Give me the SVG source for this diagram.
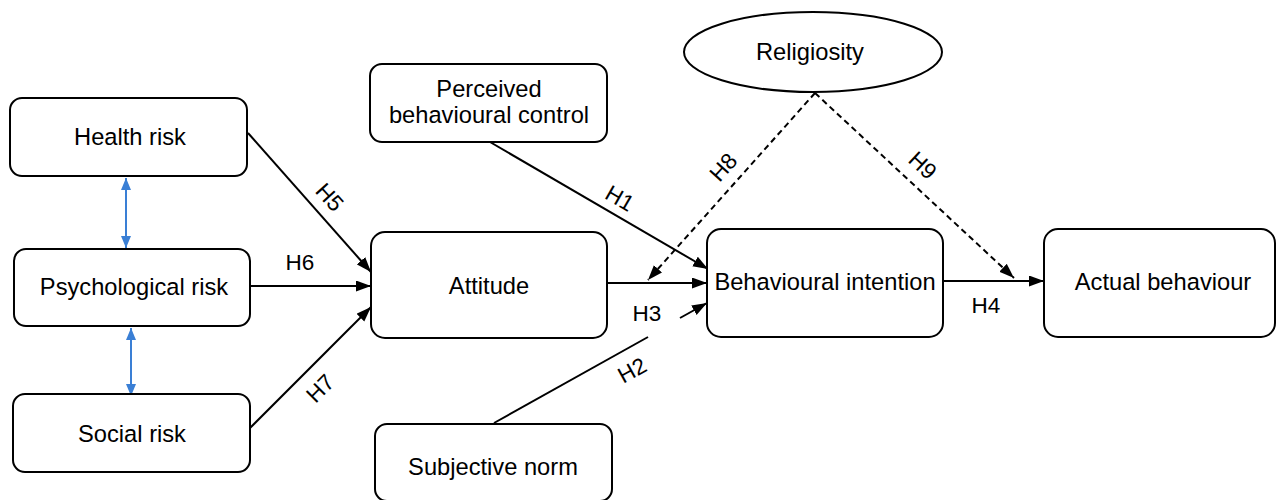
<svg xmlns="http://www.w3.org/2000/svg" width="1276" height="500" viewBox="0 0 1276 500">
<style>
.box{fill:#fff;stroke:#000;stroke-width:2}
.t{font-family:"Liberation Sans",Arial,sans-serif;font-size:23.7px;fill:#000;text-anchor:middle}
.l{font-family:"Liberation Sans",Arial,sans-serif;font-size:22.5px;fill:#000;text-anchor:middle}
.c{fill:none;stroke:#000;stroke-width:2}
.d{fill:none;stroke:#000;stroke-width:2;stroke-dasharray:6 4}
.b{fill:none;stroke:#3a7fd5;stroke-width:2}
</style>
<defs>
<marker id="ah" markerUnits="userSpaceOnUse" markerWidth="16" markerHeight="12" refX="15" refY="5.5" orient="auto"><path d="M0,0 L15,5.5 L0,11 z" fill="#000"/></marker>
<marker id="bh" markerUnits="userSpaceOnUse" markerWidth="13" markerHeight="11" refX="12" refY="5" orient="auto-start-reverse"><path d="M0,0 L12,5 L0,10 z" fill="#3a7fd5"/></marker>
</defs>
<g id="connectors">
<line class="b" x1="126" y1="178" x2="126" y2="248" marker-start="url(#bh)" marker-end="url(#bh)"/>
<line class="b" x1="131" y1="328" x2="131" y2="396" marker-start="url(#bh)" marker-end="url(#bh)"/>
<line class="c" x1="248" y1="133" x2="371" y2="272" marker-end="url(#ah)"/>
<line class="c" x1="250" y1="286" x2="371" y2="286" marker-end="url(#ah)"/>
<line class="c" x1="250" y1="428" x2="371" y2="307" marker-end="url(#ah)"/>
<line class="c" x1="490" y1="142" x2="708" y2="269" marker-end="url(#ah)"/>
<line class="c" x1="607" y1="283" x2="707" y2="283" marker-end="url(#ah)"/>
<line class="c" x1="494" y1="423" x2="648" y2="337"/>
<line class="c" x1="680" y1="318" x2="707" y2="303" marker-end="url(#ah)"/>
<line class="c" x1="943" y1="281" x2="1044" y2="281" marker-end="url(#ah)"/>
<line class="d" x1="815" y1="93" x2="648" y2="280" marker-end="url(#ah)"/>
<line class="d" x1="815" y1="93" x2="1014" y2="278" marker-end="url(#ah)"/>
<text class="l" transform="translate(330,197) rotate(48)" dy="0.36em">H5</text>
<text class="l" x="300" y="262" dy="0.36em">H6</text>
<text class="l" transform="translate(320,388) rotate(-45)" dy="0.36em">H7</text>
<text class="l" transform="translate(620,198) rotate(30)" dy="0.36em">H1</text>
<text class="l" transform="translate(723,167) rotate(-48)" dy="0.36em">H8</text>
<text class="l" transform="translate(923,165) rotate(43)" dy="0.36em">H9</text>
<text class="l" x="647" y="313" dy="0.36em">H3</text>
<text class="l" transform="translate(632,370) rotate(-29)" dy="0.36em">H2</text>
<text class="l" x="986" y="305" dy="0.36em">H4</text>
</g>
<g id="health-risk"><rect class="box" x="10" y="98" width="237" height="78" rx="12"/><text class="t" x="130" y="145">Health risk</text></g>
<g id="psychological-risk"><rect class="box" x="14" y="249" width="236" height="77" rx="12"/><text class="t" x="134" y="295">Psychological risk</text></g>
<g id="social-risk"><rect class="box" x="13" y="394" width="237" height="78" rx="12"/><text class="t" x="132" y="442">Social risk</text></g>
<g id="perceived-behavioural-control"><rect class="box" x="370" y="64" width="237" height="78" rx="12"/><text class="t" x="489" y="97">Perceived</text><text class="t" x="489" y="123">behavioural control</text></g>
<g id="attitude"><rect class="box" x="371" y="232" width="236" height="106" rx="14"/><text class="t" x="489" y="294">Attitude</text></g>
<g id="subjective-norm"><rect class="box" x="375" y="424" width="237" height="77" rx="12"/><text class="t" x="493" y="475">Subjective norm</text></g>
<g id="religiosity"><ellipse class="box" cx="813" cy="52" rx="129" ry="40"/><text class="t" x="810" y="60">Religiosity</text></g>
<g id="behavioural-intention"><rect class="box" x="707" y="229" width="236" height="108" rx="14"/><text class="t" x="825" y="290">Behavioural intention</text></g>
<g id="actual-behaviour"><rect class="box" x="1044" y="229" width="231" height="108" rx="14"/><text class="t" x="1163" y="290">Actual behaviour</text></g>
</svg>
